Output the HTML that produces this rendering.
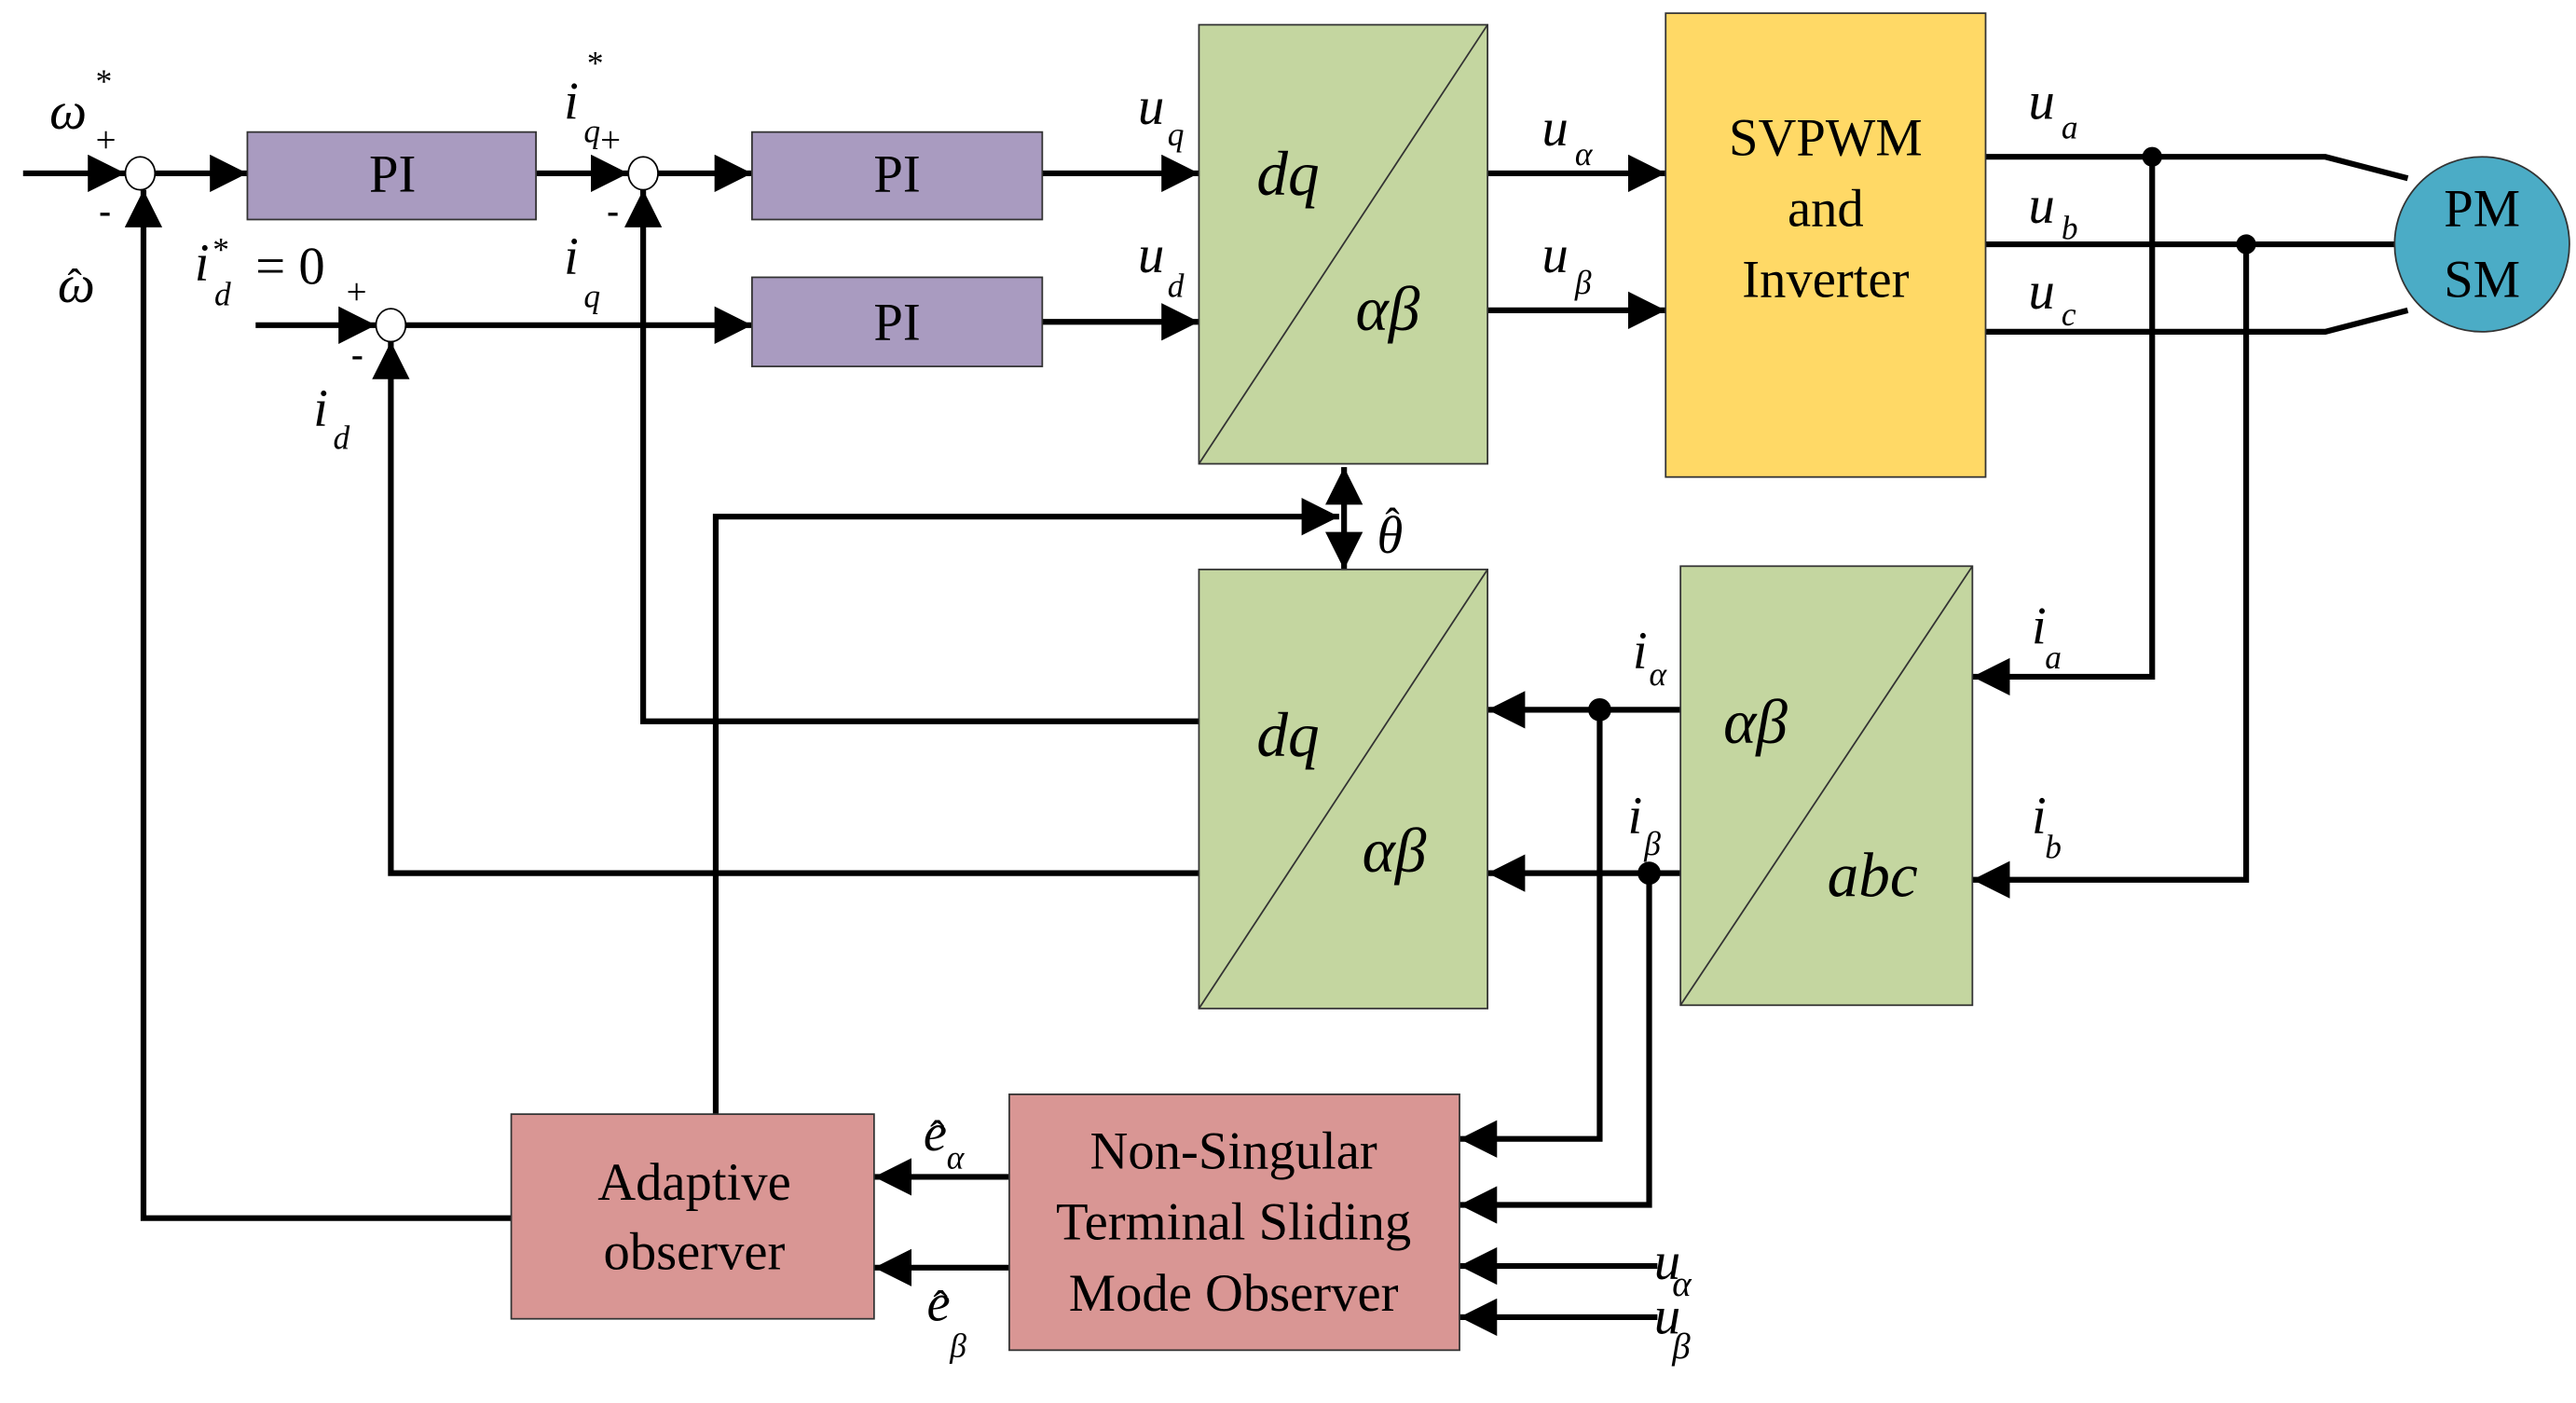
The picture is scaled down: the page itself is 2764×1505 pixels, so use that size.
<!DOCTYPE html>
<html><head><meta charset="utf-8"><style>html,body{margin:0;padding:0;background:#fff}svg{display:block}text{font-family:"Liberation Serif","DejaVu Serif",serif}</style></head><body>
<svg width="2764" height="1505" viewBox="0 0 1562 850" preserveAspectRatio="none" xmlns="http://www.w3.org/2000/svg">
<defs>
<marker id="a" viewBox="0 0 10 10" refX="10" refY="5" markerWidth="6.5" markerHeight="6.5" markerUnits="strokeWidth" orient="auto"><path d="M0,0 L10,5 L0,10 z" fill="#000"/></marker>
</defs>
<g fill="none" stroke="#000" stroke-width="3.5">
<line x1="14" y1="105" x2="76" y2="105" marker-end="url(#a)"/>
<line x1="94" y1="105" x2="150" y2="105" marker-end="url(#a)"/>
<line x1="325" y1="105" x2="381" y2="105" marker-end="url(#a)"/>
<line x1="399" y1="105" x2="456" y2="105" marker-end="url(#a)"/>
<line x1="632" y1="105" x2="727" y2="105" marker-end="url(#a)"/>
<line x1="155" y1="197" x2="228" y2="197" marker-end="url(#a)"/>
<line x1="246" y1="197" x2="456" y2="197" marker-end="url(#a)"/>
<line x1="632" y1="195" x2="727" y2="195" marker-end="url(#a)"/>
<polyline points="310,738 87,738 87,115" marker-end="url(#a)"/>
<polyline points="727,437 390,437 390,115" marker-end="url(#a)"/>
<polyline points="727,529 237,529 237,207" marker-end="url(#a)"/>
<line x1="902" y1="105" x2="1010" y2="105" marker-end="url(#a)"/>
<line x1="902" y1="188" x2="1010" y2="188" marker-end="url(#a)"/>
<polyline points="1204,95 1410,95 1460,108"/>
<line x1="1204" y1="148" x2="1452" y2="148"/>
<polyline points="1204,201 1410,201 1460,188"/>
<polyline points="1305,95 1305,410 1196,410" marker-end="url(#a)"/>
<polyline points="1362,148 1362,533 1196,533" marker-end="url(#a)"/>
<line x1="1019" y1="430" x2="902" y2="430" marker-end="url(#a)"/>
<line x1="1019" y1="529" x2="902" y2="529" marker-end="url(#a)"/>
<polyline points="970,430 970,690 885,690" marker-end="url(#a)"/>
<polyline points="1000,529 1000,730 885,730" marker-end="url(#a)"/>
<line x1="1005" y1="767" x2="885" y2="767" marker-end="url(#a)"/>
<line x1="1005" y1="798" x2="885" y2="798" marker-end="url(#a)"/>
<line x1="612" y1="713" x2="530" y2="713" marker-end="url(#a)"/>
<line x1="612" y1="768" x2="530" y2="768" marker-end="url(#a)"/>
<polyline points="434,675 434,313 812,313" marker-end="url(#a)"/>
<line x1="815" y1="300" x2="815" y2="283" marker-end="url(#a)"/>
<line x1="815" y1="300" x2="815" y2="345" marker-end="url(#a)"/>
</g>
<g fill="#fff" stroke="#000" stroke-width="1">
<ellipse cx="85" cy="105" rx="9" ry="10"/>
<ellipse cx="390" cy="105" rx="9" ry="10"/>
<ellipse cx="237" cy="197" rx="9" ry="10"/>
</g>
<g fill="#000">
<circle cx="1305" cy="95" r="6"/><circle cx="1362" cy="148" r="6"/>
<circle cx="970" cy="430" r="7"/><circle cx="1000" cy="529" r="7"/>
</g>
<g stroke="#333" stroke-width="1">
<rect x="150" y="80" width="175" height="53" fill="#A99BC0"/>
<rect x="456" y="80" width="176" height="53" fill="#A99BC0"/>
<rect x="456" y="168" width="176" height="54" fill="#A99BC0"/>
<rect x="727" y="15" width="175" height="266" fill="#C4D6A0"/>
<line x1="727" y1="281" x2="902" y2="15"/>
<rect x="727" y="345" width="175" height="266" fill="#C4D6A0"/>
<line x1="727" y1="611" x2="902" y2="345"/>
<rect x="1019" y="343" width="177" height="266" fill="#C4D6A0"/>
<line x1="1019" y1="609" x2="1196" y2="343"/>
<rect x="1010" y="8" width="194" height="281" fill="#FFD966"/>
<rect x="612" y="663" width="273" height="155" fill="#D99694"/>
<rect x="310" y="675" width="220" height="124" fill="#D99694"/>
<circle cx="1505" cy="148" r="53" fill="#4BACC6"/>
</g>
<g font-size="32" text-anchor="middle" fill="#000">
<text x="238" y="116">PI</text><text x="544" y="116">PI</text><text x="544" y="206">PI</text>
<text x="1107" y="94">SVPWM</text><text x="1107" y="137">and</text><text x="1107" y="180">Inverter</text>
<text x="1505" y="137">PM</text><text x="1505" y="180">SM</text>
<text x="748" y="708">Non-Singular</text><text x="748" y="751">Terminal Sliding</text><text x="748" y="794">Mode Observer</text>
<text x="421" y="727">Adaptive</text><text x="421" y="769">observer</text>
</g>
<g font-style="italic" font-size="38" fill="#000">
<text x="762" y="118">dq</text><text x="822" y="200">αβ</text>
<text x="762" y="458">dq</text><text x="826" y="528">αβ</text>
<text x="1045" y="450">αβ</text><text x="1108" y="543">abc</text>
</g>
<g font-style="italic" font-size="32" fill="#000">
<text x="30" y="78">ω</text><text x="58" y="56" font-size="20" font-style="normal">*</text>
<text x="35" y="183">ω</text><text x="41" y="181" font-style="normal" font-size="26">ˆ</text>
<text x="342" y="72">i</text><text x="356" y="45" font-size="20" font-style="normal">*</text><text x="354" y="86" font-size="20">q</text>
<text x="342" y="166">i</text><text x="354" y="186" font-size="20">q</text>
<text x="118" y="170">i</text><text x="129" y="158" font-size="20" font-style="normal">*</text><text x="130" y="185" font-size="20">d</text>
<text x="155" y="172" font-style="normal">= 0</text>
<text x="190" y="258">i</text><text x="202" y="272" font-size="20">d</text>
<text x="690" y="75">u</text><text x="708" y="88" font-size="20">q</text>
<text x="690" y="165">u</text><text x="708" y="180" font-size="20">d</text>
<text x="935" y="88">u</text><text x="955" y="100" font-size="20">α</text>
<text x="935" y="165">u</text><text x="955" y="178" font-size="20">β</text>
<text x="1230" y="72">u</text><text x="1250" y="84" font-size="20">a</text>
<text x="1230" y="135">u</text><text x="1250" y="145" font-size="20">b</text>
<text x="1230" y="187">u</text><text x="1250" y="197" font-size="20">c</text>
<text x="1232" y="390">i</text><text x="1240" y="405" font-size="20">a</text>
<text x="1232" y="505">i</text><text x="1240" y="520" font-size="20">b</text>
<text x="990" y="405">i</text><text x="1000" y="415" font-size="20">α</text>
<text x="987" y="505">i</text><text x="997" y="518" font-size="20">β</text>
<text x="1003" y="775">u</text><text x="1014" y="785" font-size="22">α</text>
<text x="1003" y="808">u</text><text x="1014" y="823" font-size="22">β</text>
<text x="560" y="697">e</text><text x="564" y="697" font-style="normal" font-size="26">ˆ</text><text x="574" y="708" font-size="20">α</text>
<text x="562" y="800">e</text><text x="566" y="800" font-style="normal" font-size="26">ˆ</text><text x="576" y="822" font-size="20">β</text>
<text x="835" y="335">θ</text><text x="840" y="326" font-style="normal" font-size="26">ˆ</text>
</g>
<g font-size="22" fill="#000">
<text x="58" y="92">+</text><text x="364" y="92">+</text><text x="210" y="184">+</text>
<text x="60" y="135" font-weight="bold">-</text><text x="368" y="135" font-weight="bold">-</text><text x="213" y="222" font-weight="bold">-</text>
</g>
</svg>
</body></html>
